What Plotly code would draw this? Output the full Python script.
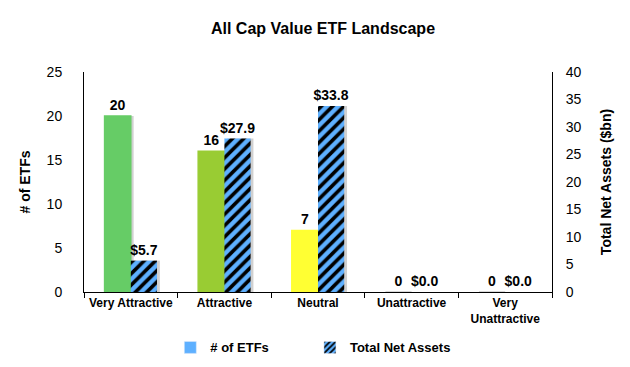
import plotly.graph_objects as go

categories = ["Very Attractive", "Attractive", "Neutral", "Unattractive", "Very<br>Unattractive"]
num_etfs = [20, 16, 7, 0, 0]
net_assets = [5.7, 27.9, 33.8, 0.0, 0.0]
etf_colors = ["#66CC66", "#99CC33", "#FFFF33", "#CCCCCC", "#CCCCCC"]
left_ticks = [0, 5, 10, 15, 20, 25]
right_ticks = [0, 5, 10, 15, 20, 25, 30, 35, 40]

W = 0.28
FONT = "Liberation Sans, Arial, sans-serif"
BLUE = "#5EB0FF"

fig = go.Figure()

# soft shadows
fig.add_trace(go.Bar(x=categories, y=num_etfs, offset=-W + 0.03, width=W,
                     marker=dict(color="rgba(120,120,120,0.35)", line=dict(width=0)),
                     showlegend=False, hoverinfo="skip", yaxis="y"))
fig.add_trace(go.Bar(x=categories, y=net_assets, offset=0.03, width=W,
                     marker=dict(color="rgba(120,120,120,0.35)", line=dict(width=0)),
                     showlegend=False, hoverinfo="skip", yaxis="y2"))

fig.add_trace(go.Bar(
    x=categories, y=num_etfs, offset=-W, width=W, yaxis="y",
    marker=dict(color=etf_colors, line=dict(color=etf_colors, width=1.5)),
    text=[str(v) for v in num_etfs], textposition="outside", constraintext="none",
    textfont=dict(family=FONT, size=14, color="black", weight="bold"),
    cliponaxis=False, showlegend=False, name="# of ETFs"))

fig.add_trace(go.Bar(
    x=categories, y=net_assets, offset=0, width=W, yaxis="y2",
    marker=dict(color=BLUE, line=dict(width=0),
                pattern=dict(shape="/", fgcolor="black", bgcolor=BLUE, size=8,
                             solidity=0.45, fillmode="replace")),
    text=[f"${v:.1f}" for v in net_assets], textposition="outside", constraintext="none",
    textfont=dict(family=FONT, size=14, color="black", weight="bold"),
    cliponaxis=False, showlegend=False, name="Total Net Assets"))

# legend entries
fig.add_trace(go.Bar(x=[None], y=[None], name="# of ETFs" + "\u00a0" * 10,
                     marker=dict(color=BLUE), yaxis="y"))
fig.add_trace(go.Bar(x=[None], y=[None], name="Total Net Assets", yaxis="y2",
                     marker=dict(color=BLUE, pattern=dict(shape="/", fgcolor="black", bgcolor=BLUE,
                                                          size=5, solidity=0.45, fillmode="replace"))))

fig.update_layout(
    width=630, height=367,
    margin=dict(l=76, r=86, t=64, b=73),
    paper_bgcolor="white", plot_bgcolor="white",
    barmode="overlay",
    font=dict(family=FONT, size=14, color="black"),
    title=dict(text="<b>All Cap Value ETF Landscape</b>", x=0.5, xanchor="center",
               y=0.945, yanchor="middle", font=dict(family=FONT, size=16, color="black")),
    xaxis=dict(type="category", showline=True, linecolor="black", linewidth=1,
               ticks="outside", tickson="boundaries", ticklen=5, tickcolor="black",
               tickfont=dict(family=FONT, size=12, color="black", weight="bold"),
               showgrid=False, zeroline=False),
    yaxis=dict(range=[0, 25], tickvals=left_ticks, showline=True, linecolor="black",
               linewidth=1, showgrid=False, zeroline=False, ticks="", ticklabelstandoff=18,
               tickfont=dict(family=FONT, size=14, color="black"),
               title=dict(text="<b># of ETFs</b>", font=dict(family=FONT, size=14), standoff=12)),
    yaxis2=dict(range=[0, 40], tickvals=right_ticks, tickprefix="$", overlaying="y", side="right",
                showline=True, linecolor="black", linewidth=1, showgrid=False, zeroline=False,
                ticks="", ticklabelstandoff=10, tickfont=dict(family=FONT, size=14, color="black"),
                title=dict(text="<b>Total Net Assets ($bn)</b>", font=dict(family=FONT, size=14), standoff=20)),
    legend=dict(orientation="h", x=0.49, xanchor="center", y=-0.252, yanchor="middle",
                font=dict(family=FONT, size=13, color="black", weight="bold"),
                itemwidth=30),
)

fig.write_html("out.html")
